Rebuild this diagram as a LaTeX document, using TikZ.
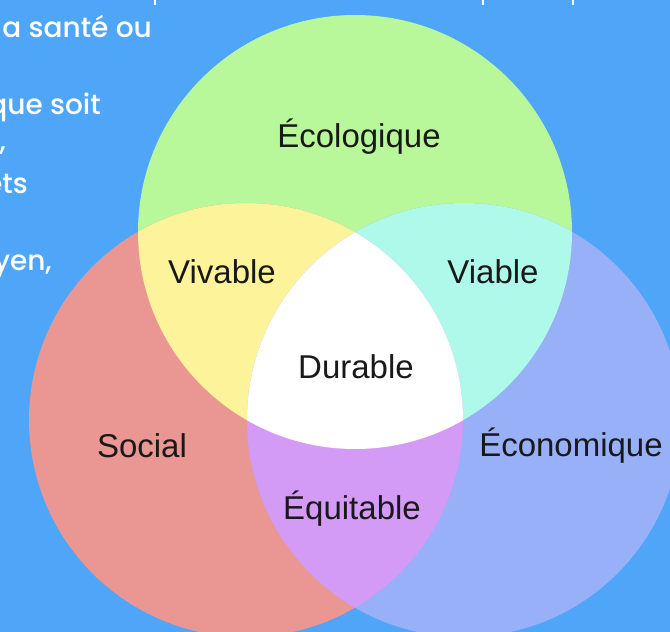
\documentclass[tikz,border=0pt]{standalone}
\usepackage{fontspec}
\setmainfont{Liberation Sans}
\newfontfamily\slidefont{Poppins}[UprightFont={* Medium}]
\usepackage{xcolor}
\usetikzlibrary{positioning, calc}

\definecolor{bgblue}{RGB}{79,165,248}
\definecolor{ecogreen}{RGB}{185,247,155}
\definecolor{socred}{RGB}{234,151,147}
\definecolor{ecoblue}{RGB}{151,176,247}
\definecolor{vivyellow}{RGB}{252,243,155}
\definecolor{viacyan}{RGB}{174,249,234}
\definecolor{equipurple}{RGB}{211,155,245}

\tikzset{
  lbl/.style={font=\fontsize{33}{33}\selectfont, text=black!90},
  slide/.style={font=\slidefont\fontsize{28}{28}\selectfont, text=white, inner sep=0pt}
}

\begin{document}
\begin{tikzpicture}[x=1pt,y=-1pt]
        \useasboundingbox (0,0) rectangle (670,632);
        \fill[bgblue] (0,0) rectangle (670,632);
        \coordinate (g) at (355,232);
        \coordinate (r) at (246,420);
        \coordinate (b) at (464,420);
        % the three circles
        \fill[ecogreen] (g) circle[radius=217];
        \fill[socred] (r) circle[radius=217];
        \fill[ecoblue] (b) circle[radius=217];
        % pairwise overlaps
        \begin{scope}
            \clip (g) circle[radius=217];
            \fill[vivyellow] (r) circle[radius=217];
            \fill[viacyan] (b) circle[radius=217];
            \clip (r) circle[radius=217];
            \fill[white] (b) circle[radius=217];
        \end{scope}
        \begin{scope}
            \clip (r) circle[radius=217];
            \clip (b) circle[radius=217];
            \fill[equipurple] (0,0) rectangle (670,632);
            \fill[white] (g) circle[radius=217];
        \end{scope}
        \node[lbl] (eco) at (359,137) {Écologique};
        \node[lbl] (viv) at (222,272) {Vivable};
        \node[lbl] (via) at (493,272) {Viable};
        \node[lbl] (dur) at (356,367) {Durable};
        \node[lbl] (soc) at (142,446) {Social};
        \node[lbl] (econ) at (571,446) {Économique};
        \node[lbl] (equi) at (352,509) {Équitable};
        % bits of the slide text behind
        \node[slide, anchor=base east] (t1) at (152,37) {a santé ou};
        \node[slide, anchor=base east] (t2) at (101,114) {que soit};
        \node[slide, anchor=base east] (t3) at (6,150) {,};
        \node[slide, anchor=base east] (t4) at (28,193) {ets};
        \node[slide, anchor=base east] (t5) at (52,270) {yen,};
        \foreach \x in {155,483,573}
            \draw[white, line width=2.5] (\x,0) -- (\x,5);
    \end{tikzpicture}
\end{document}
